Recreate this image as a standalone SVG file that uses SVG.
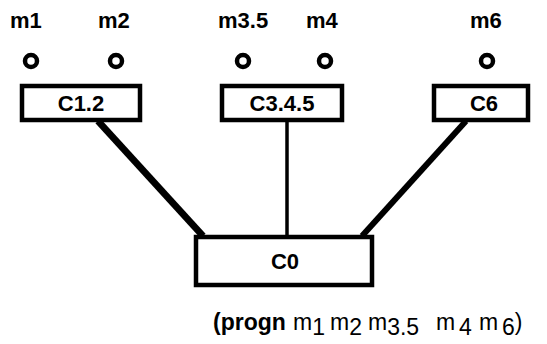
<svg xmlns="http://www.w3.org/2000/svg" width="547" height="344" viewBox="0 0 547 344">
<style>
.lbl{font-family:"Liberation Sans",Arial,sans-serif;font-weight:bold;font-size:22px;fill:#000}
.box{fill:#fff;stroke:#000;stroke-width:4.5}
.bt{font-family:"Liberation Sans",Arial,sans-serif;font-weight:bold;font-size:22px;fill:#000;text-anchor:middle}
.pin{fill:none;stroke:#000;stroke-width:4.5}
.conn{stroke:#000;fill:none}
.code{font-family:"Liberation Sans",Arial,sans-serif;font-size:23px;fill:#000}
</style>
<rect width="547" height="344" fill="#fff"/>
<g id="connectors">
<line class="conn" x1="98" y1="121" x2="203" y2="236" stroke-width="7"/>
<line class="conn" x1="287" y1="121" x2="287" y2="236" stroke-width="3.5"/>
<line class="conn" x1="466" y1="121" x2="362" y2="236" stroke-width="6"/>
</g>
<g id="m1"><text class="lbl" x="10" y="28">m1</text><circle class="pin" cx="31" cy="61" r="6"/></g>
<g id="m2"><text class="lbl" x="98" y="28">m2</text><circle class="pin" cx="116" cy="61" r="6"/></g>
<g id="m3.5"><text class="lbl" x="218" y="28">m3.5</text><circle class="pin" cx="243" cy="61" r="6"/></g>
<g id="m4"><text class="lbl" x="306" y="28">m4</text><circle class="pin" cx="325" cy="61" r="6"/></g>
<g id="m6"><text class="lbl" x="470" y="28">m6</text><circle class="pin" cx="487" cy="61" r="6"/></g>
<g id="C1.2"><rect class="box" x="22" y="86" width="118" height="34"/><text class="bt" x="81" y="111">C1.2</text></g>
<g id="C3.4.5"><rect class="box" x="222" y="86" width="120" height="34"/><text class="bt" x="282" y="111">C3.4.5</text></g>
<g id="C6"><rect class="box" x="434" y="86" width="94" height="34"/><text class="bt" x="484" y="111">C6</text></g>
<g id="C0"><rect class="box" x="196" y="237" width="176" height="48"/><text class="bt" x="285" y="269">C0</text></g>
<text class="code" x="213" y="330"><tspan font-weight="bold">(progn</tspan><tspan x="293">m</tspan><tspan dy="5">1</tspan><tspan x="330" dy="-5">m</tspan><tspan dy="5">2</tspan><tspan x="368" dy="-5">m</tspan><tspan dy="5">3.5</tspan><tspan x="436" dy="-5">m</tspan><tspan x="459" dy="5">4</tspan><tspan x="479" dy="-5">m</tspan><tspan x="502" dy="5">6</tspan><tspan dy="-5">)</tspan></text>
</svg>
